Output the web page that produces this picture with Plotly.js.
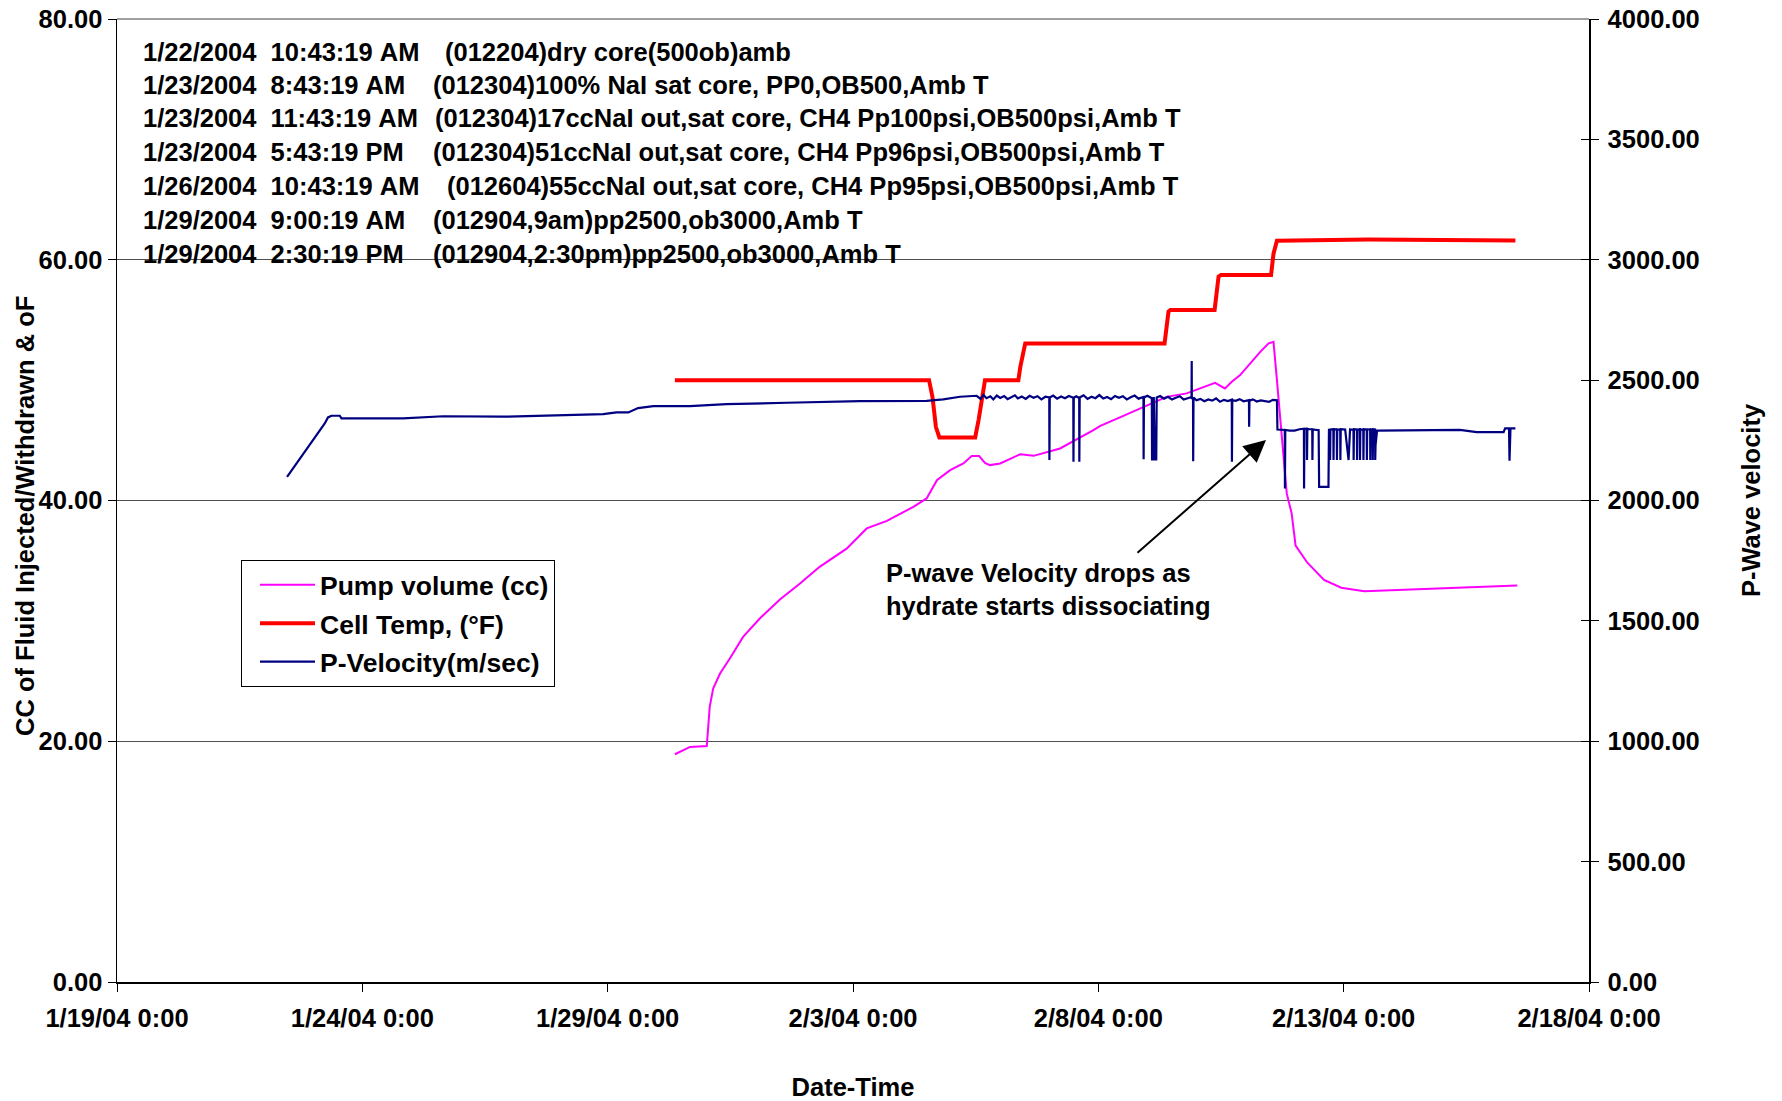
<!DOCTYPE html>
<html>
<head>
<meta charset="utf-8">
<script src="https://cdn.plot.ly/plotly-3.0.1.min.js"></script>
<style>
  html, body { margin: 0; padding: 0; background: #fff; }
  #chart { width: 1782px; height: 1101px; }
</style>
</head>
<body>
<div id="chart"></div>
<script>
// ---- Data (x values are elapsed days after 1/19/04 0:00) ----
const startDate = '2004-01-19';
const endDate = '2004-02-18';

const seriesNames = ['Pump volume (cc)', 'Cell Temp, (\u00B0F)', 'P-Velocity(m/sec)'];

const pumpDays = [11.37, 11.47, 11.68, 12.02, 12.05, 12.08, 12.15, 12.29, 12.49, 12.76, 13.10, 13.51, 13.92, 14.32, 14.87, 15.28, 15.69, 16.23, 16.50, 16.71, 16.98, 17.25, 17.42, 17.57, 17.69, 17.79, 18.00, 18.41, 18.68, 19.22, 19.90, 20.04, 20.44, 20.92, 21.39, 21.80, 22.07, 22.38, 22.58, 22.72, 22.89, 23.30, 23.47, 23.57, 23.64, 23.70, 23.74, 23.84, 23.94, 24.02, 24.26, 24.60, 24.95, 25.42, 26.80, 28.54];
const pumpCc = [18.92, 19.11, 19.53, 19.61, 21.61, 22.85, 24.38, 25.63, 26.87, 28.67, 30.20, 31.78, 33.11, 34.49, 36.00, 37.68, 38.31, 39.47, 40.17, 41.69, 42.52, 43.08, 43.69, 43.69, 43.13, 42.94, 43.08, 43.85, 43.71, 44.32, 45.85, 46.20, 46.90, 47.78, 48.61, 48.90, 49.31, 49.78, 49.31, 49.86, 50.42, 52.35, 53.05, 53.18, 50.00, 47.51, 45.29, 40.59, 38.92, 36.25, 34.83, 33.41, 32.75, 32.47, 32.66, 32.94];

const tempDays = [11.37, 16.55, 16.62, 16.69, 16.76, 17.49, 17.56, 17.63, 17.69, 18.37, 18.41, 18.51, 21.35, 21.43, 21.47, 22.37, 22.45, 22.50, 23.52, 23.57, 23.64, 25.50, 28.50];
const tempF = [50.0, 50.0, 48.6, 46.1, 45.24, 45.24, 46.7, 48.6, 50.0, 50.0, 51.1, 53.05, 53.05, 55.7, 55.82, 55.82, 58.6, 58.73, 58.73, 60.5, 61.58, 61.68, 61.6];

const velDays = [3.466, 4.15, 4.234, 4.30, 4.37, 4.54, 4.575, 5.83, 6.646, 7.863, 9.908, 10.18, 10.42, 10.62, 10.93, 11.676, 12.42, 13.65, 15.14, 16.50, 16.84, 17.18, 17.52,
  17.60, 17.66, 17.72, 17.80, 17.86, 17.93, 18.00, 18.08, 18.15, 18.22, 18.30, 18.36, 18.44, 18.52, 18.60, 18.68, 18.76, 18.84, 18.92,
  19.00, 19.003, 19.01, 19.08, 19.16, 19.24, 19.32, 19.40, 19.49, 19.493, 19.50, 19.55, 19.61, 19.613, 19.62, 19.70, 19.78, 19.86, 19.94,
  20.02, 20.10, 20.18, 20.26, 20.34, 20.42, 20.50, 20.58, 20.66, 20.74, 20.82, 20.92, 20.923, 20.93, 21.00,
  21.09, 21.095, 21.12, 21.13, 21.15, 21.18, 21.19, 21.26, 21.34, 21.42, 21.50, 21.58, 21.66, 21.74, 21.82,
  21.90, 21.903, 21.905, 21.93, 21.933, 21.94, 22.00, 22.08, 22.16, 22.24, 22.32, 22.40, 22.48, 22.56, 22.64,
  22.72, 22.723, 22.73, 22.80, 22.88, 22.96, 23.07, 23.073, 23.08, 23.15, 23.23, 23.31, 23.40, 23.48, 23.56, 23.64,
  23.65, 23.70, 23.80, 23.803, 23.81, 23.90, 24.00, 24.10, 24.19, 24.193, 24.20, 24.25, 24.253, 24.26, 24.30, 24.36, 24.363, 24.37,
  24.44, 24.49, 24.50, 24.69, 24.70, 24.72, 24.723, 24.73, 24.79, 24.793, 24.80, 24.86, 24.863, 24.87, 24.93, 24.933, 24.94,
  25.03, 25.10, 25.13, 25.20, 25.203, 25.21, 25.27, 25.273, 25.28, 25.33, 25.333, 25.34, 25.40, 25.403, 25.41, 25.47, 25.473, 25.48,
  25.54, 25.543, 25.55, 25.59, 25.593, 25.60, 25.64, 25.643, 25.65, 25.68, 25.70, 25.81, 27.37, 27.71, 28.26, 28.29, 28.37, 28.38, 28.40, 28.50];
const velMs = [2098, 2295, 2320, 2345, 2352, 2352, 2341, 2341, 2350, 2348, 2359, 2366, 2366, 2384, 2392, 2392, 2400, 2406, 2413, 2414, 2420, 2431, 2435,
  2422, 2438, 2425, 2433, 2420, 2436, 2426, 2434, 2421, 2430, 2437, 2424, 2432, 2422, 2435, 2427, 2433, 2420, 2431,
  2428, 2168, 2428, 2436, 2423, 2432, 2425, 2434, 2427, 2161, 2427, 2433, 2426, 2161, 2428, 2437, 2422, 2431, 2425,
  2438, 2424, 2430, 2421, 2434, 2427, 2433, 2420, 2429, 2436, 2423, 2430, 2171, 2428, 2435,
  2425, 2171, 2171, 2430, 2171, 2171, 2428, 2434, 2423, 2431, 2420, 2427, 2433, 2419, 2426,
  2430, 2579, 2425, 2425, 2163, 2428, 2416, 2422, 2412, 2420, 2415, 2424, 2410, 2418, 2413,
  2419, 2161, 2417, 2414, 2421, 2412, 2417, 2306, 2415, 2420, 2411, 2416, 2413, 2410, 2418, 2416,
  2295, 2295, 2293, 2050, 2293, 2290, 2290, 2296, 2298, 2050, 2298, 2298, 2168, 2298, 2296, 2296, 2168, 2296,
  2293, 2292, 2057, 2057, 2293, 2293, 2168, 2295, 2296, 2168, 2296, 2295, 2168, 2295, 2294, 2168, 2296,
  2295, 2168, 2295, 2294, 2168, 2296, 2295, 2168, 2294, 2296, 2168, 2295, 2294, 2168, 2296, 2295, 2168, 2294,
  2296, 2168, 2295, 2294, 2168, 2296, 2295, 2168, 2230, 2290, 2290, 2293, 2293, 2284, 2284, 2300, 2300, 2165, 2300, 2300];

const noteStamps = ['1/22/2004  10:43:19 AM', '1/23/2004  8:43:19 AM', '1/23/2004  11:43:19 AM', '1/23/2004  5:43:19 PM', '1/26/2004  10:43:19 AM', '1/29/2004  9:00:19 AM', '1/29/2004  2:30:19 PM'];
const noteTexts = ['(012204)dry core(500ob)amb', '(012304)100% NaI sat core, PP0,OB500,Amb T', '(012304)17ccNaI out,sat core, CH4 Pp100psi,OB500psi,Amb T', '(012304)51ccNaI out,sat core, CH4 Pp96psi,OB500psi,Amb T', '(012604)55ccNaI out,sat core, CH4 Pp95psi,OB500psi,Amb T', '(012904,9am)pp2500,ob3000,Amb T', '(012904,2:30pm)pp2500,ob3000,Amb T'];

const leftTicks = [0, 20, 40, 60, 80];
const rightTicks = [0, 500, 1000, 1500, 2000, 2500, 3000, 3500, 4000];

// ---- Helpers ----
const DAY_MS = 864e5;
const t0 = Date.parse(startDate + 'T00:00:00Z');
function toDate(d) {
  return new Date(t0 + Math.round(d * DAY_MS)).toISOString().replace('T', ' ').slice(0, 19);
}

const FONT = 'Liberation Sans, Arial, Helvetica, sans-serif';
const f = (size) => ({ family: FONT, size: size, color: '#000', weight: 700 });

// plot area in pixels (for placing paper-referenced notes)
const W = 1782, H = 1101;
const M = { l: 117, r: 193, t: 19, b: 119 };
const PH = H - M.t - M.b, PW = W - M.l - M.r;
const py = (pix) => (H - M.b - pix) / PH;
const px = (pix) => (pix - M.l) / PW;

const traces = [
  { name: seriesNames[0], x: pumpDays.map(toDate), y: pumpCc, type: 'scatter', mode: 'lines',
    line: { color: '#FF00FF', width: 2 }, legendgroup: 'a', yaxis: 'y' },
  { name: seriesNames[1], x: tempDays.map(toDate), y: tempF, type: 'scatter', mode: 'lines',
    line: { color: '#FF0000', width: 4 }, legendgroup: 'b', yaxis: 'y' },
  { name: seriesNames[2], x: velDays.map(toDate), y: velMs, type: 'scatter', mode: 'lines',
    line: { color: '#000080', width: 2.2 }, legendgroup: 'c', yaxis: 'y2' },
  { x: [], y: [], yaxis: 'y3', showlegend: false, hoverinfo: 'skip', type: 'scatter', mode: 'lines' }
];

const noteRows = [52, 85, 118, 152, 186, 220, 254];
const noteX2 = [443, 431, 433, 431, 445, 431, 431];
const annotations = [];
noteStamps.forEach((s, i) => {
  annotations.push({ xref: 'paper', yref: 'paper', x: px(141), y: py(noteRows[i]), xanchor: 'left', yanchor: 'middle',
    text: s.replace(/ /g, '&nbsp;'), showarrow: false, font: f(25.5) });
  annotations.push({ xref: 'paper', yref: 'paper', x: px(noteX2[i]), y: py(noteRows[i]), xanchor: 'left', yanchor: 'middle',
    text: noteTexts[i], showarrow: false, font: f(25.5) });
});
annotations.push({ xref: 'paper', yref: 'paper', x: px(884), y: py(589), xanchor: 'left', yanchor: 'middle', align: 'left',
  text: 'P-wave Velocity drops as<br>hydrate starts dissociating', showarrow: false, font: f(25.5) });
annotations.push({ xref: 'paper', yref: 'paper', x: px(1266), y: py(440), text: '', showarrow: true,
  ax: -130, ay: 114, arrowhead: 2, arrowsize: 2.2, arrowwidth: 2, arrowcolor: '#000' });
// left axis title, placed as a rotated label
annotations.push({ xref: 'paper', yref: 'paper', x: px(25), y: py(516), xanchor: 'center', yanchor: 'middle',
  textangle: -90, text: 'CC of Fluid Injected/Withdrawn &amp; oF', showarrow: false, font: f(25.5) });

const layout = {
  width: W, height: H,
  margin: M,
  paper_bgcolor: '#fff', plot_bgcolor: '#fff',
  font: f(25.5),
  showlegend: true,
  legend: { x: px(241), y: py(560), xanchor: 'left', yanchor: 'top', bgcolor: '#fff', bordercolor: '#000', borderwidth: 1,
    font: f(26.5), tracegroupgap: 1, indentation: 13, itemwidth: 55 },
  xaxis: {
    type: 'date', range: [startDate, endDate], tick0: startDate, dtick: 5 * DAY_MS,
    tickformat: '%-m/%-d/%y %-H:%M', ticks: 'outside', ticklen: 8, tickcolor: '#000', tickwidth: 1,
    ticklabelstandoff: 5,
    showline: true, linecolor: '#000', linewidth: 1.5, showgrid: false, zeroline: false,
    tickfont: f(25.5), title: { text: 'Date-Time', font: f(25.5), standoff: 48 }
  },
  yaxis: {
    range: [0, 80], tickvals: leftTicks, tickformat: '.2f', ticks: 'outside', ticklen: 8, tickcolor: '#000',
    showline: true, linecolor: '#000', linewidth: 1.5, showgrid: true, gridcolor: '#505050', gridwidth: 1.2, zeroline: false,
    tickfont: f(25.5)
  },
  yaxis2: {
    overlaying: 'y', side: 'right', range: [0, 4000], tickvals: rightTicks, tickformat: '.2f', ticks: 'outside', ticklen: 8,
    tickcolor: '#000', showline: true, linecolor: '#000', linewidth: 1.5, showgrid: false, zeroline: false,
    ticklabelstandoff: 4,
    tickfont: f(25.5), title: { text: 'P-Wave velocity', font: f(25.5), standoff: 43 }
  },
  yaxis3: {
    overlaying: 'y', side: 'right', range: [0, 4000], tickvals: rightTicks, ticks: 'inside', ticklen: 8, tickcolor: '#000',
    showticklabels: false, showline: false, showgrid: false, zeroline: false
  },
  shapes: [
    { type: 'line', xref: 'paper', yref: 'paper', x0: 0, x1: 1, y0: 1, y1: 1, line: { color: '#808080', width: 1.5 } }
  ],
  annotations: annotations
};

Plotly.newPlot('chart', traces, layout, { displayModeBar: false, staticPlot: true });
</script>
</body>
</html>
